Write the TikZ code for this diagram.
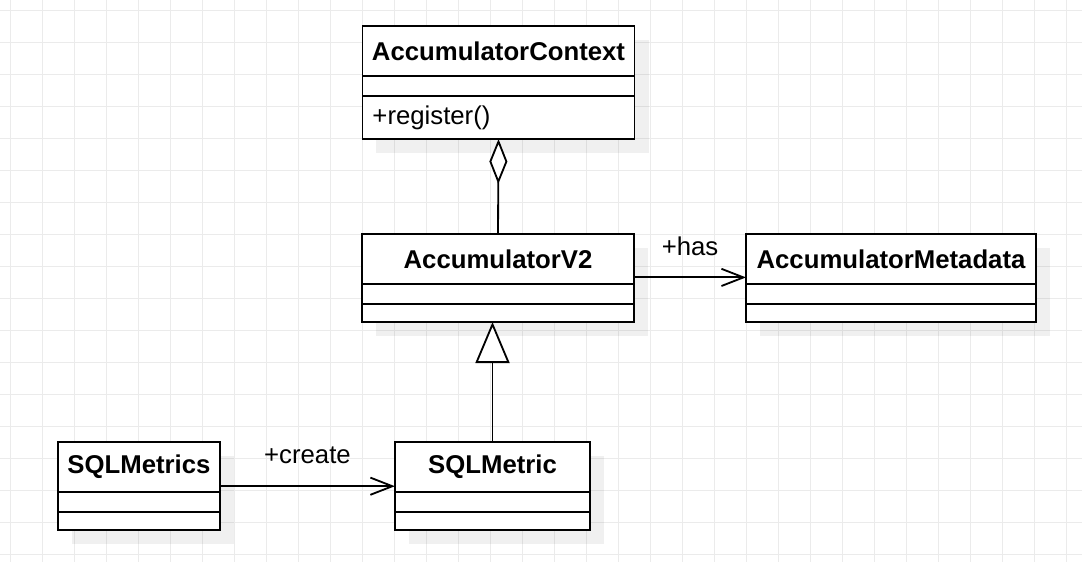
\documentclass[tikz,border=0pt]{standalone}
\usepackage{fontspec}
\setmainfont{Liberation Sans}
\usetikzlibrary{positioning,arrows.meta,backgrounds}
\definecolor{UMLGrid}{HTML}{EBEBEB}
\definecolor{UMLLine}{HTML}{000000}

\begin{document}
\begin{tikzpicture}[x=0.025cm,y=0.025cm,
  classname/.style={draw=UMLLine,line width=1.3pt,fill=white,outer sep=0pt,minimum height=1.25cm,font=\fontsize{18.3}{22}\selectfont\bfseries},
  compart/.style={draw=UMLLine,line width=1.3pt,fill=white,outer sep=0pt,inner sep=0pt,font=\fontsize{18.3}{22}\selectfont},
  link/.style={UMLLine,line width=1.3pt},
  rolelabel/.style={inner sep=0pt,font=\fontsize{18.3}{22}\selectfont}]
\path[use as bounding box] (0,0) rectangle (1082,562);

\node[classname,minimum width=6.8cm] (ctx) at (498.5,511) {AccumulatorContext};
\node[compart,minimum width=6.8cm,minimum height=0.5cm,below=0pt of ctx] (ctx-a) {};
\node[compart,text width=6.3cm,align=left,inner xsep=0.25cm,minimum height=1.075cm,below=0pt of ctx-a] (ctx-o) {+register()};

\node[classname,minimum width=6.8cm] (v2) at (498,303) {AccumulatorV2};
\node[compart,minimum width=6.8cm,minimum height=0.5cm,below=0pt of v2] (v2-a) {};
\node[compart,minimum width=6.8cm,minimum height=0.45cm,below=0pt of v2-a] (v2-o) {};

\node[classname,minimum width=7.25cm] (meta) at (891,303) {AccumulatorMetadata};
\node[compart,minimum width=7.25cm,minimum height=0.5cm,below=0pt of meta] (meta-a) {};
\node[compart,minimum width=7.25cm,minimum height=0.45cm,below=0pt of meta-a] (meta-o) {};

\node[classname,minimum width=4.05cm] (sqls) at (139,95) {SQLMetrics};
\node[compart,minimum width=4.05cm,minimum height=0.5cm,below=0pt of sqls] (sqls-a) {};
\node[compart,minimum width=4.05cm,minimum height=0.45cm,below=0pt of sqls-a] (sqls-o) {};

\node[classname,minimum width=4.88cm] (sql) at (492.5,95) {SQLMetric};
\node[compart,minimum width=4.88cm,minimum height=0.5cm,below=0pt of sql] (sql-a) {};
\node[compart,minimum width=4.88cm,minimum height=0.45cm,below=0pt of sql-a] (sql-o) {};

\draw[link,{Diamond[length=1.125cm,width=0.45cm,fill=white]}-] (ctx-o.south) -- (v2.north);
\draw[link,-{Triangle[length=1.025cm,width=0.85cm,fill=white]}] (sql.north) -- (sql.north |- v2-o.south);
\draw[link,-{Straight Barb[length=0.55cm,width=0.43cm]}] ([yshift=-0.46cm]v2.east) -- node[rolelabel,above=0.52cm] (has) {+has} ([yshift=-0.46cm]meta.west);
\draw[link,-{Straight Barb[length=0.55cm,width=0.43cm]}] ([yshift=-0.48cm]sqls.east) -- node[rolelabel,above=0.55cm] (create) {+create} ([yshift=-0.48cm]sql.west);

\begin{scope}[on background layer]
\foreach \gx in {10,42,...,1066} \draw[UMLGrid,line width=0.7pt] (\gx,0) -- (\gx,562);
\foreach \gy in {8,40,...,552} \draw[UMLGrid,line width=0.7pt] (0,\gy) -- (1082,\gy);
\foreach \nm/\nmo in {ctx/ctx-o,v2/v2-o,meta/meta-o,sqls/sqls-o,sql/sql-o}
  \fill[black,fill opacity=0.06] ([shift={(14,-14)}]\nm.north west) rectangle ([shift={(14,-14)}]\nmo.south east);
\end{scope}
\end{tikzpicture}
\end{document}
